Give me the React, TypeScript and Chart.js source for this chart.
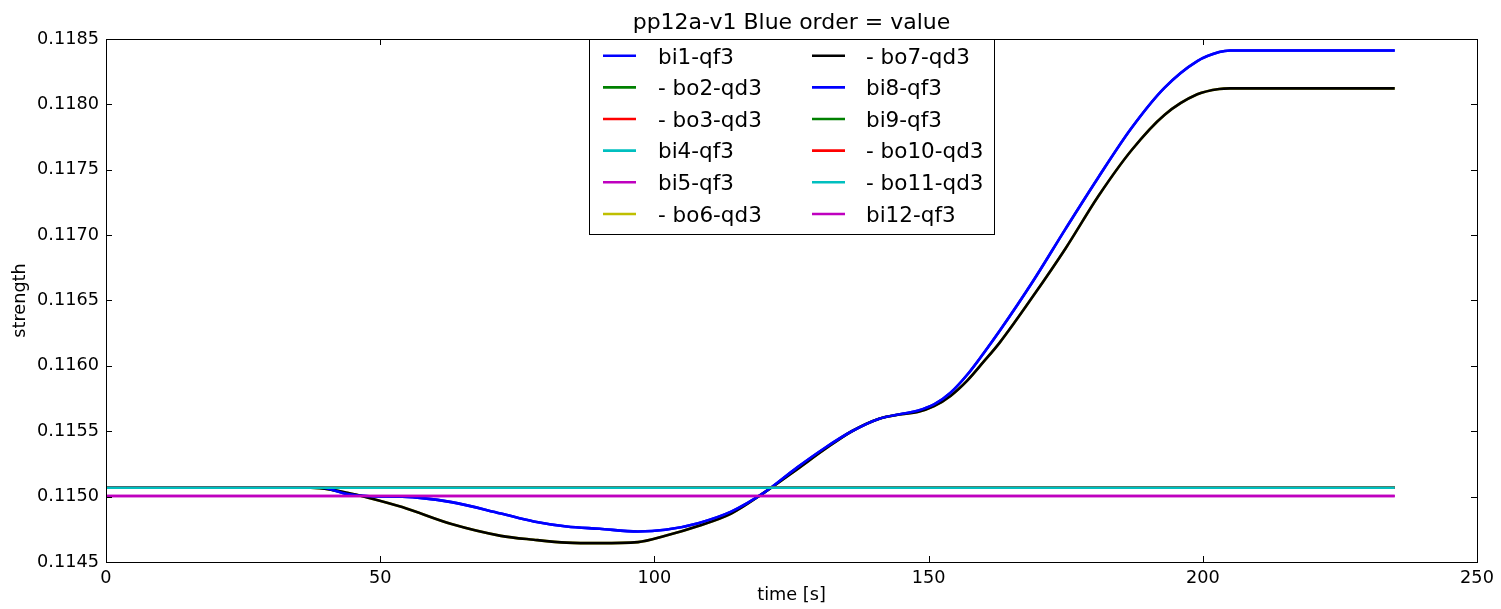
import React, { useEffect, useRef } from "react";
import { Chart, registerables } from "chart.js";

Chart.register(...registerables);

const chartTitle = "pp12a-v1 Blue order = value";
const xAxisTitle = "time [s]";
const yAxisTitle = "strength";

const seriesLabels = [
  "bi1-qf3",
  "- bo2-qd3",
  "- bo3-qd3",
  "bi4-qf3",
  "bi5-qf3",
  "- bo6-qd3",
  "- bo7-qd3",
  "bi8-qf3",
  "bi9-qf3",
  "- bo10-qd3",
  "- bo11-qd3",
  "bi12-qf3",
];
const seriesColors = [
  "#0000ff",
  "#008000",
  "#ff0000",
  "#00bfbf",
  "#bf00bf",
  "#bfbf00",
  "#000000",
  "#0000ff",
  "#008000",
  "#ff0000",
  "#00bfbf",
  "#bf00bf",
];
// which value list each series follows
const seriesShape = ["bi", "up", "up", "up", "low", "bo", "bo", "bi", "up", "up", "up", "low"];

const curveTimes = [
  0, 35, 39, 44, 48, 54, 63, 72, 78, 84, 90, 97, 102, 108, 114, 120, 126, 131, 136, 141, 145, 148,
  151, 154, 157, 160, 163, 169, 175, 181, 187, 193, 199, 203, 205, 215, 225, 235,
];
const biStrength = [
  0.11507, 0.11507, 0.11507, 0.11502, 0.115003, 0.115, 0.114958, 0.114871, 0.11481, 0.114772,
  0.114754, 0.114733, 0.114746, 0.114797, 0.114885, 0.11503, 0.115222, 0.11537, 0.1155, 0.115596,
  0.115632, 0.115657, 0.115705, 0.115795, 0.11593, 0.116095, 0.11627, 0.116645, 0.11705, 0.117445,
  0.117819, 0.118126, 0.118331, 0.1184, 0.118412, 0.118412, 0.118412, 0.118412,
];
const boStrength = [
  0.11507, 0.11507, 0.115065, 0.11503, 0.11499, 0.11492, 0.11479, 0.1147, 0.11467, 0.114648,
  0.114644, 0.114652, 0.1147, 0.114775, 0.11487, 0.11503, 0.115208, 0.11536, 0.1155, 0.115596,
  0.11563, 0.115647, 0.115692, 0.11577, 0.115885, 0.11603, 0.11618, 0.11653, 0.1169, 0.117301,
  0.117649, 0.117919, 0.118077, 0.118118, 0.118122, 0.118122, 0.118122, 0.118122,
];
const flatTimes = [0, 235];
const upperFlatStrength = [0.115068, 0.115068];
const lowerFlatStrength = [0.115005, 0.115005];

const xTickValues = [0, 50, 100, 150, 200, 250];
const yTickValues = [0.1145, 0.115, 0.1155, 0.116, 0.1165, 0.117, 0.1175, 0.118, 0.1185];

const FONT = '"DejaVu Sans", "Liberation Sans", sans-serif';

function buildPoints(shape: string) {
  if (shape === "bi") return curveTimes.map((t, i) => ({ x: t, y: biStrength[i] }));
  if (shape === "bo") return curveTimes.map((t, i) => ({ x: t, y: boStrength[i] }));
  if (shape === "up") return flatTimes.map((t, i) => ({ x: t, y: upperFlatStrength[i] }));
  return flatTimes.map((t, i) => ({ x: t, y: lowerFlatStrength[i] }));
}

const decorPlugin = {
  id: "decor",
  afterDraw(chart: any) {
    const ctx = chart.ctx as CanvasRenderingContext2D;
    const { left, right, top, bottom } = chart.chartArea;
    const xs = chart.scales.x;
    const ys = chart.scales.y;
    ctx.save();
    // frame
    ctx.strokeStyle = "#000";
    ctx.lineWidth = 1;
    ctx.strokeRect(Math.round(left) + 0.5, Math.round(top) + 0.5, Math.round(right - left), Math.round(bottom - top));
    // inward ticks
    const tl = 6;
    ctx.beginPath();
    xTickValues.forEach((v) => {
      const px = Math.round(xs.getPixelForValue(v)) + 0.5;
      ctx.moveTo(px, bottom);
      ctx.lineTo(px, bottom - tl);
      ctx.moveTo(px, top);
      ctx.lineTo(px, top + tl);
    });
    yTickValues.forEach((v) => {
      const py = Math.round(ys.getPixelForValue(v)) + 0.5;
      ctx.moveTo(left, py);
      ctx.lineTo(left + tl, py);
      ctx.moveTo(right, py);
      ctx.lineTo(right - tl, py);
    });
    ctx.stroke();

    // titles
    ctx.fillStyle = "#000";
    const cx = (left + right) / 2;
    ctx.textAlign = "center";
    ctx.textBaseline = "alphabetic";
    ctx.font = `22px ${FONT}`;
    ctx.fillText(chartTitle, cx, 29);
    ctx.font = `17.7px ${FONT}`;
    ctx.textBaseline = "middle";
    ctx.fillText(xAxisTitle, cx, 595);
    ctx.save();
    ctx.translate(20, (top + bottom) / 2);
    ctx.rotate(-Math.PI / 2);
    ctx.fillText(yAxisTitle, 0, 0);
    ctx.restore();

    // legend
    const boxL = 589.5;
    const boxT = 39.5;
    const boxW = 405;
    const boxH = 195;
    ctx.fillStyle = "#fff";
    ctx.fillRect(boxL, boxT, boxW, boxH);
    ctx.strokeStyle = "#000";
    ctx.lineWidth = 1;
    ctx.strokeRect(boxL, boxT, boxW, boxH);
    ctx.font = `21.5px ${FONT}`;
    ctx.textAlign = "left";
    ctx.textBaseline = "alphabetic";
    const colLineX = [603, 812];
    const colTextX = [658, 866];
    const rowY0 = 55.7;
    const rowStep = 31.65;
    seriesLabels.forEach((label, i) => {
      const col = Math.floor(i / 6);
      const row = i % 6;
      const y = rowY0 + row * rowStep;
      ctx.strokeStyle = seriesColors[i];
      ctx.lineWidth = 2.6;
      ctx.beginPath();
      ctx.moveTo(colLineX[col], y);
      ctx.lineTo(colLineX[col] + 33, y);
      ctx.stroke();
      ctx.fillStyle = "#000";
      ctx.fillText(label, colTextX[col], y + 7.8);
    });
    ctx.restore();
  },
};

export default function App() {
  const ref = useRef<HTMLCanvasElement | null>(null);
  useEffect(() => {
    document.body.style.margin = "0";
    const canvas = ref.current;
    if (!canvas) return;
    const chart = new Chart(canvas, {
      type: "line",
      data: {
        datasets: seriesLabels.map((label, i) => ({
          label,
          data: buildPoints(seriesShape[i]),
          borderColor: seriesColors[i],
          backgroundColor: seriesColors[i],
          borderWidth: 2.6,
          pointRadius: 0,
          fill: false,
          cubicInterpolationMode: "monotone" as const,
          order: -i,
        })),
      },
      options: {
        responsive: false,
        animation: false,
        layout: { padding: { left: 0, right: 24, top: 39, bottom: 0 } },
        plugins: {
          legend: { display: false },
          title: { display: false },
          tooltip: { enabled: false },
        },
        scales: {
          x: {
            type: "linear",
            min: 0,
            max: 250,
            grid: { display: false, drawTicks: false },
            border: { display: false },
            ticks: {
              stepSize: 50,
              padding: 6,
              color: "#000",
              font: { family: FONT, size: 17.7 },
              maxRotation: 0,
            },
            afterFit(scale: any) {
              scale.height = 47;
            },
          },
          y: {
            type: "linear",
            min: 0.1145,
            max: 0.1185,
            grid: { display: false, drawTicks: false },
            border: { display: false },
            ticks: {
              stepSize: 0.0005,
              padding: 7,
              color: "#000",
              font: { family: FONT, size: 17.7 },
              callback: (v: any) => Number(v).toFixed(4),
            },
            afterFit(scale: any) {
              scale.width = 106;
            },
          },
        },
      },
      plugins: [decorPlugin],
    });
    return () => chart.destroy();
  }, []);
  return (
    <canvas
      ref={ref}
      width={1501}
      height={609}
      style={{ display: "block", width: "1501px", height: "609px" }}
    />
  );
}
